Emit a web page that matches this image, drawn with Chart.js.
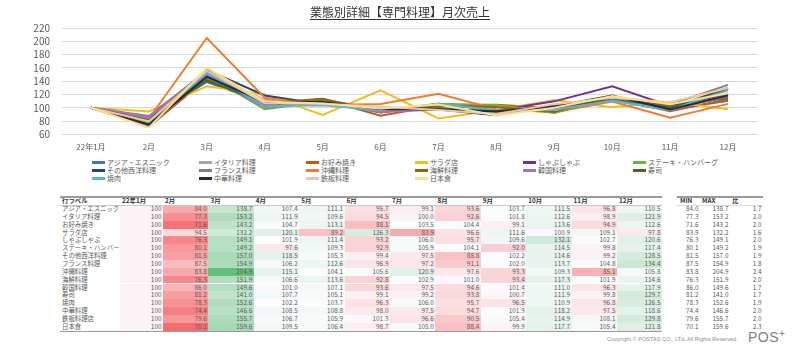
<!DOCTYPE html>
<html><head><meta charset="utf-8">
<script src="https://cdn.jsdelivr.net/npm/chart.js@4.4.1/dist/chart.umd.min.js"></script>
<style>
html,body{margin:0;padding:0;background:#fff;}
body{width:800px;height:349px;overflow:hidden;position:relative;font-family:"Noto Sans CJK JP","Noto Sans",sans-serif;}
#title{position:absolute;top:4px;left:0;width:800px;text-align:center;font-size:12px;color:#333;z-index:2;line-height:16px;}
#title span{text-decoration:underline;text-underline-offset:2px;}
#cv{position:absolute;left:0;top:0;}
.lg{position:absolute;height:8px;font-size:7px;line-height:8px;color:#595959;white-space:nowrap;}
.lg i{display:inline-block;width:13px;height:2.5px;vertical-align:middle;margin-right:2px;position:relative;top:-0.5px;}
.c{position:absolute;font-size:6.4px;color:#595959;white-space:nowrap;overflow:hidden;box-sizing:border-box;}
.h{font-weight:bold;color:#333;}
.ln{position:absolute;}
#copy{position:absolute;left:607px;top:336px;font-size:5.6px;color:#8c8c8c;font-family:"Liberation Sans",Arial,sans-serif;white-space:nowrap;}
#pos{position:absolute;left:748px;top:329px;font-size:14px;color:#7f7f7f;font-family:"Liberation Sans",Arial,sans-serif;letter-spacing:0.5px;}
#pos sup{font-size:10px;vertical-align:5px;line-height:0;}
</style></head>
<body>
<div id="title"><span>業態別詳細【専門料理】月次売上</span></div>
<canvas id="cv" width="800" height="155"></canvas>
<div id="legend"></div>
<div id="table"></div>
<div id="copy">Copyright © POSTAS CO., LTd. All Rights Reserved.</div>
<div id="pos">POS<sup>+</sup></div>
<script>
// ---- data ----
const months = ["22年1月","2月","3月","4月","5月","6月","7月","8月","9月","10月","11月","12月"];
const seriesNames = ["アジア・エスニック","イタリア料理","お好み焼き","サラダ店","しゃぶしゃぶ","ステーキ・ハンバーグ","その他西洋料理","フランス料理","沖縄料理","海鮮料理","韓国料理","寿司","焼肉","中華料理","鉄板料理","日本食"];
const rowLabels = ["アジア・エスニック","イタリア料理","お好み焼き","サラダ店","しゃぶしゃぶ","ステーキ・ハンバーグ","その他西洋料理","フランス料理","沖縄料理","海鮮料理","韓国料理","寿司","焼肉","中華料理","鉄板料理店","日本食"];
const asia         = [100,84.0,138.7,107.4,111.1,95.7,99.1,93.6,103.7,111.5,96.8,110.5];
const italian      = [100,77.3,153.2,111.9,109.6,94.5,100.0,92.6,101.8,112.6,98.9,121.9];
const okonomiyaki  = [100,71.6,143.2,104.7,113.1,88.1,103.5,104.4,99.1,113.6,94.9,112.6];
const salad        = [100,94.5,132.2,120.1,89.2,126.3,83.9,96.6,111.6,100.9,109.1,97.8];
const shabu        = [100,76.3,149.1,101.9,111.4,93.2,106.0,95.7,109.6,132.1,102.7,120.6];
const steak        = [100,80.1,149.2,97.6,109.3,92.9,105.9,104.1,92.0,114.5,99.8,117.4];
const otherWestern = [100,81.5,157.0,118.5,105.3,99.4,97.5,88.8,102.2,114.6,99.2,128.5];
const french       = [100,87.5,154.9,106.2,112.6,96.9,97.2,91.1,102.0,113.7,104.8,134.4];
const okinawa      = [100,83.8,204.9,115.1,104.1,105.6,120.9,97.6,93.3,109.3,85.1,105.8];
const seafood      = [100,76.3,151.9,106.6,113.6,92.8,102.9,101.0,93.4,117.3,101.9,114.6];
const korean       = [100,86.0,149.6,101.0,107.1,93.6,97.5,94.6,101.4,111.0,96.3,117.9];
const sushi        = [100,81.2,141.0,107.7,105.1,99.1,99.2,93.8,100.7,111.9,99.8,129.7];
const yakiniku     = [100,78.3,152.6,102.2,103.7,96.3,106.0,95.7,96.5,110.9,96.8,126.5];
const chinese      = [100,74.4,146.6,108.5,108.8,98.0,97.5,94.7,101.9,118.2,97.5,118.6];
const teppan       = [100,79.6,155.7,106.7,105.9,101.3,96.6,90.5,105.4,114.9,108.1,129.8];
const japanese     = [100,70.1,159.6,109.5,106.4,98.7,105.0,88.4,99.9,117.7,105.4,121.8];
const yTicks = {min:60,max:220,step:20};
const statHeaders = ["MIN","MAX","比"];

// ---- styles ----
const seriesData = [asia,italian,okonomiyaki,salad,shabu,steak,otherWestern,french,okinawa,seafood,korean,sushi,yakiniku,chinese,teppan,japanese];
const colors = ["#4472C4","#A5A5A5","#C55A11","#F2BE1A","#7030A0","#70AD47","#264478","#7F7F7F","#ED7D31","#8C6A00","#A370D0","#3E6A2A","#55B4DA","#1F2B45","#F6C3A0","#FFE08A"];
const FONT = '"Noto Sans CJK JP","Noto Sans",sans-serif';

new Chart(document.getElementById('cv'), {
  type:'line',
  data:{labels:months, datasets: seriesNames.map((n,i)=>({label:n,data:seriesData[i],borderColor:colors[i],backgroundColor:colors[i],borderWidth:2,pointRadius:0,tension:0,fill:false,order:seriesNames.length-i}))},
  options:{
    responsive:false, animation:false, devicePixelRatio:1,
    layout:{padding:{top:28,left:0,right:43,bottom:0}},
    plugins:{legend:{display:false},tooltip:{enabled:false},title:{display:false}},
    scales:{
      x:{offset:true,grid:{display:false,drawTicks:false},border:{display:false},
         ticks:{padding:8,color:'#595959',maxRotation:0,autoSkip:false,font:{size:8,family:FONT}},
         afterFit(s){s.height=20.7;}},
      y:{min:yTicks.min,max:yTicks.max,grid:{color:'#D9D9D9',drawTicks:false,lineWidth:1},border:{display:false},
         ticks:{stepSize:yTicks.step,autoSkip:false,padding:12,color:'#595959',font:{size:10,family:FONT}},
         afterFit(s){s.width=62;}}
    }
  }
});

// ---- legend ----
const lgX=[92,199,306,415,523,633];
const lg=document.getElementById('legend');
seriesNames.forEach((n,i)=>{
  const d=document.createElement('div');d.className='lg';
  d.style.left=lgX[i%6]+'px';d.style.top=(158+Math.floor(i/6)*8)+'px';
  d.innerHTML='<i style="background:'+colors[i]+'"></i>'+n;
  lg.appendChild(d);
});

// ---- table ----
const tb=document.getElementById('table');
const all=seriesData.flat().slice().sort((a,b)=>a-b);
const vmin=all[0],vmax=all[all.length-1];
const vmid=(all[Math.floor((all.length-1)/2)]+all[Math.ceil((all.length-1)/2)])/2;
function mix(a,b,t){return a.map((v,k)=>Math.round(v+(b[k]-v)*t));}
function heat(v){
  const lo=[244,108,111],mi=[252,252,255],hi=[99,190,123];
  let c; if(v<=vmid){c=mix(mi,lo,(vmid-v)/(vmid-vmin));} else {c=mix(mi,hi,(v-vmid)/(vmax-vmid));}
  return 'rgb('+c.join(',')+')';
}
function cell(x,y,w,h,txt,align,cls,bg){
  const d=document.createElement('div');d.className='c'+(cls?' '+cls:'');
  d.style.left=x+'px';d.style.top=y+'px';d.style.width=w+'px';d.style.height=h+'px';
  d.style.lineHeight=h+'px';d.style.textAlign=align;
  d.style.padding=align==='right'?'0 1.5px 0 0':'0 0 0 2px';
  if(bg)d.style.background=bg;
  d.textContent=txt;tb.appendChild(d);
}
function line(x,y,w,h,c){const d=document.createElement('div');d.className='ln';d.style.cssText+='left:'+x+'px;top:'+y+'px;width:'+w+'px;height:'+h+'px;background:'+c;tb.appendChild(d);}
const tTop=197, hH=8, rH=7.85;
const colX=[60,120,163]; for(let k=1;k<11;k++)colX.push(163+45.4*k); colX.push(662);
// header
cell(60,tTop,60,hH,'行ラベル','left','h');
months.forEach((m,j)=>cell(colX[j+1],tTop,colX[j+2]-colX[j+1],hH,m,'left','h'));
seriesData.forEach((arr,i)=>{
  const y=tTop+hH+i*rH;
  cell(60,y,60,rH,rowLabels[i],'left');
  arr.forEach((v,j)=>{
    cell(colX[j+1],y,colX[j+2]-colX[j+1],rH,j===0?String(v):v.toFixed(1),'right','',heat(v));
  });
});
line(60,tTop-1,602,1.5,'#9a9a9a');
line(60,tTop+hH-0.5,602,1,'#c8c8c8');
line(60,tTop+hH+16*rH,602,1,'#9a9a9a');
// stats table
const sX=[678,700,730,763];
statHeaders.forEach((h,k)=>cell(sX[k],tTop,sX[k+1]-sX[k],hH,h,'left','h'));
seriesData.forEach((arr,i)=>{
  const y=tTop+hH+i*rH;
  const mn=Math.min(...arr.slice(1)),mx=Math.max(...arr.slice(1));
  cell(sX[0],y,sX[1]-sX[0],rH,mn.toFixed(1),'right');
  cell(sX[1],y,sX[2]-sX[1],rH,mx.toFixed(1),'right');
  cell(sX[2],y,sX[3]-sX[2],rH,(mx/mn).toFixed(1),'right');
});
line(677,tTop-1,86,1.5,'#9a9a9a');
line(677,tTop+hH-0.5,86,1,'#d8d8d8');
</script>
</body></html>
